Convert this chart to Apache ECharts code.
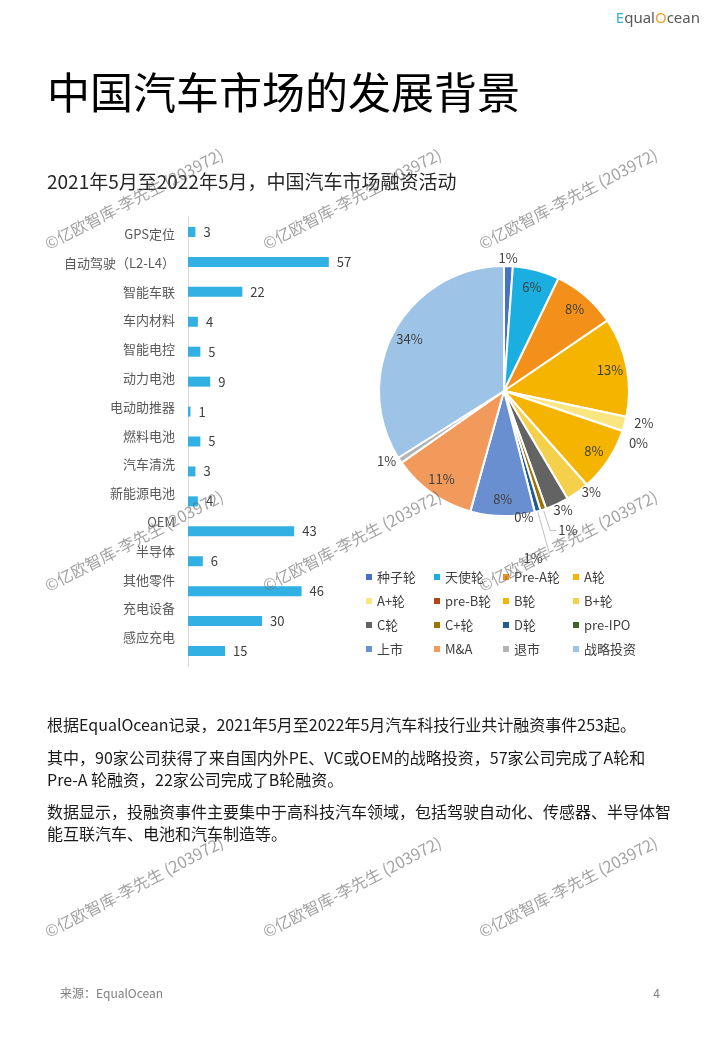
<!DOCTYPE html>
<html>
<head>
<meta charset="utf-8">
<script src="https://cdn.jsdelivr.net/npm/echarts@6/dist/echarts.min.js"></script>
<style>
  html, body { margin: 0; padding: 0; background: #ffffff; }
  #chart { width: 720px; height: 1040px; }
</style>
</head>
<body>
<div id="chart"></div>
<script>
// ---------- DATA ----------
const categories = ['GPS定位', '自动驾驶（L2-L4）', '智能车联', '车内材料', '智能电控', '动力电池', '电动助推器', '燃料电池', '汽车清洗', '新能源电池', 'OEM', '半导体', '其他零件', '充电设备', '感应充电'];
const categoryCounts = [3, 57, 22, 4, 5, 9, 1, 5, 3, 4, 43, 6, 46, 30, 15];

const rounds = ['种子轮', '天使轮', 'Pre-A轮', 'A轮', 'A+轮', 'pre-B轮', 'B轮', 'B+轮', 'C轮', 'C+轮', 'D轮', 'pre-IPO', '上市', 'M&A', '退市', '战略投资'];
const roundCounts = [3, 16, 22, 34, 5, 0, 22, 8, 8, 2, 2, 0, 22, 29, 2, 90];
const roundColors = ['#4472c4', '#1aafe0', '#f39019', '#f5b400', '#f9e681', '#b54416', '#f5b400', '#f5d04a', '#636363', '#9c7400', '#235c90', '#416226', '#6a8fd1', '#f19a5c', '#b4b4b4', '#9dc3e6'];

const legendColumns = [
  ['种子轮', 'A+轮', 'C轮', '上市'],
  ['天使轮', 'pre-B轮', 'C+轮', 'M&A'],
  ['Pre-A轮', 'B轮', 'D轮', '退市'],
  ['A轮', 'B+轮', 'pre-IPO', '战略投资']
];

const titleText = '中国汽车市场的发展背景';
const subtitleText = '2021年5月至2022年5月，中国汽车市场融资活动';
const bodyLines = [
  '根据EqualOcean记录，2021年5月至2022年5月汽车科技行业共计融资事件253起。',
  '其中，90家公司获得了来自国内外PE、VC或OEM的战略投资，57家公司完成了A轮和',
  'Pre-A 轮融资，22家公司完成了B轮融资。',
  '数据显示，投融资事件主要集中于高科技汽车领域，包括驾驶自动化、传感器、半导体智',
  '能互联汽车、电池和汽车制造等。'
];
const watermarkText = '©亿欧智库-李先生 (203972)';
const sourceText = '来源：EqualOcean';
const pageText = '4';

// ---------- STYLE / LAYOUT ----------
const FONT = 'Noto Sans CJK SC';
const pieCenter = [504, 391];
const pieRadius = 125;
const total = roundCounts.reduce((a, b) => a + b, 0);
const pct = v => Math.round(v / total * 100);

// per-item outside-label tweaks (style only)
const outsideTweaks = {
  '种子轮': { length: 5, length2: 0 },
  'A+轮': { length: 10, length2: 2 },
  'pre-B轮': { length: 10, length2: 2 },
  'B+轮': { length: 4, length2: 0 },
  'C轮': { length: 1, length2: 0 },
  'C+轮': { length: 22, length2: 6, line: true },
  'D轮': { length: 44, length2: 0, line: true },
  'pre-IPO': { length: 2, length2: 0 },
  '退市': { length: 2, length2: 0 }
};
const labelShift = {
  '种子轮': [-12, -3],
  'A+轮': [-4, -4],
  'pre-B轮': [-7, 9],
  'B+轮': [0, -3],
  'C轮': [-6, 5],
  'pre-IPO': [-23, 3],
  'D轮': [-28, 4]
};

const mainPieData = rounds.map((name, i) => {
  const big = pct(roundCounts[i]) >= 5;
  const tw = outsideTweaks[name] || { length: 4, length2: 0 };
  return {
    name: name,
    value: roundCounts[i],
    itemStyle: { color: roundColors[i] },
    label: { show: !big },
    labelLine: { show: !!tw.line, length: tw.length, length2: tw.length2 }
  };
});
const overlayPieData = rounds.map((name, i) => ({
  name: name,
  value: roundCounts[i],
  label: { show: pct(roundCounts[i]) >= 5 }
}));

const graphics = [];
graphics.push({ type: 'text', x: 47, y: 93, style: { text: titleText, fontFamily: FONT, fontSize: 43, fill: '#000000', verticalAlign: 'middle' } });
graphics.push({ type: 'text', x: 47, y: 182, style: { text: subtitleText, fontFamily: FONT, fontSize: 19, fill: '#262626', verticalAlign: 'middle' } });
graphics.push({ type: 'text', x: 700, y: 19, style: {
  text: '{e|E}qual{o|O}cean', align: 'right', verticalAlign: 'middle', fontFamily: 'Noto Sans', fontSize: 15, fill: '#595959',
  rich: { e: { fill: '#3ab5c6', fontFamily: 'Noto Sans', fontSize: 15 }, o: { fill: '#f0a030', fontFamily: 'Noto Sans', fontSize: 15 } }
} });
const bodyY = [725, 758, 780, 812, 834];
bodyLines.forEach((t, i) => {
  graphics.push({ type: 'text', x: 47, y: bodyY[i], style: { text: t, fontFamily: FONT, fontSize: 16, fill: '#1a1a1a', verticalAlign: 'middle' } });
});
graphics.push({ type: 'text', x: 60, y: 993, style: { text: sourceText, fontFamily: FONT, fontSize: 12, fill: '#7f7f7f', verticalAlign: 'middle' } });
graphics.push({ type: 'text', x: 660, y: 993, style: { text: pageText, fontFamily: FONT, fontSize: 12, fill: '#7f7f7f', align: 'right', verticalAlign: 'middle' } });
const wmX = [134, 352, 568];
const wmY = [199, 541, 887];
wmY.forEach(y => wmX.forEach(x => {
  graphics.push({ type: 'text', x: x, y: y, rotation: 27.5 * Math.PI / 180, z: 100, silent: true,
    style: { text: watermarkText, fontFamily: FONT, fontSize: 16, fill: 'rgba(100,100,100,0.6)', align: 'center', verticalAlign: 'middle' } });
}));

const legends = legendColumns.map((col, i) => ({
  orient: 'vertical',
  left: [364, 432, 501, 571][i],
  top: 570,
  data: col,
  icon: 'rect',
  itemWidth: 8,
  itemHeight: 8,
  itemGap: 10,
  selectedMode: false,
  textStyle: { fontFamily: FONT, fontSize: 13, color: '#404040', lineHeight: 14, padding: [0, 0, 0, -1] },
  padding: 0
}));

const option = {
  backgroundColor: '#ffffff',
  animation: false,
  textStyle: { fontFamily: FONT },
  legend: legends,
  grid: [
    { left: 188, top: 217, width: 148.2, height: 449 },
    { left: 188, top: 219.6, width: 148.2, height: 432 }
  ],
  xAxis: [
    { type: 'value', gridIndex: 0, min: 0, max: 60, show: false },
    { type: 'value', gridIndex: 1, min: 0, max: 60, show: false }
  ],
  yAxis: [
    { type: 'category', gridIndex: 0, inverse: true, data: categories,
      axisLabel: { show: false }, axisTick: { show: false },
      axisLine: { show: true, lineStyle: { color: '#d9d9d9', width: 1 } } },
    { type: 'category', gridIndex: 1, inverse: true, data: categories,
      axisTick: { show: false }, axisLine: { show: false },
      axisLabel: { fontFamily: FONT, fontSize: 13, color: '#595959', margin: 13 } }
  ],
  series: [
    {
      type: 'bar', xAxisIndex: 0, yAxisIndex: 0, data: categoryCounts, barWidth: 10,
      itemStyle: { color: '#33b0e3' },
      label: { show: true, position: 'right', distance: 8, fontFamily: FONT, fontSize: 13, color: '#404040' },
      silent: true
    },
    {
      type: 'pie', center: pieCenter, radius: [0, pieRadius], startAngle: 90, clockwise: true,
      data: mainPieData, silent: true, avoidLabelOverlap: false,
      itemStyle: { borderColor: '#ffffff', borderWidth: 2 },
      label: { position: 'outside', fontFamily: FONT, fontSize: 13, color: '#404040', distanceToLabelLine: 2,
        formatter: p => pct(p.value) + '%' },
      labelLine: { lineStyle: { color: '#bfbfbf', width: 1 } },
      labelLayout: function (params) {
        const s = labelShift[rounds[params.dataIndex]];
        return s ? { dx: s[0], dy: s[1] } : {};
      },
      emphasis: { disabled: true }
    },
    {
      type: 'pie', center: pieCenter, radius: [0, pieRadius * 1.68], startAngle: 90, clockwise: true,
      data: overlayPieData, silent: true, legendHoverLink: false,
      itemStyle: { color: 'rgba(0,0,0,0)', borderWidth: 0 },
      label: { position: 'inside', fontFamily: FONT, fontSize: 13, color: '#404040',
        formatter: p => pct(p.value) + '%' },
      labelLine: { show: false },
      emphasis: { disabled: true }
    }
  ],
  graphic: graphics
};

const chart = echarts.init(document.getElementById('chart'), null, { renderer: 'canvas', width: 720, height: 1040 });
chart.setOption(option);
</script>
</body>
</html>
